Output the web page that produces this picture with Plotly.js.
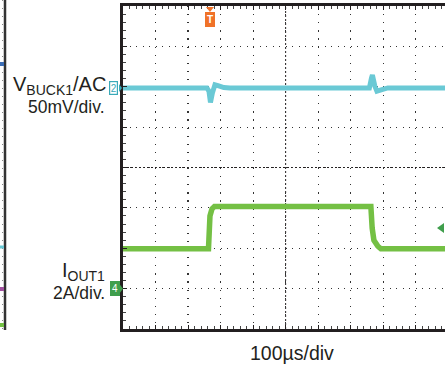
<!DOCTYPE html>
<html>
<head>
<meta charset="utf-8">
<script src="https://cdn.plot.ly/plotly-3.0.1.min.js"></script>
<style>html,body{margin:0;padding:0;background:#fff;}#chart{width:445px;height:370px;}</style>
</head>
<body>
<div id="chart"></div>
<script>
// ---- Data read from the scope capture ----
// Channel 2: V_BUCK1 (AC coupled), mV vs time in microseconds
const ch2TimeUs = [0, 258, 264.3, 268.9, 275, 282.7, 292, 310, 328.8, 757.5, 763.7, 766.8, 774.5, 780.6, 796, 814.4, 990];
const ch2mV     = [0, 0,   -4,    -18,   -6,  4,     3,   0.5, 0,     0,     12,    16,    2,     -4,    -2,  0,     0];
// Channel 4: I_OUT1, amps vs time in microseconds
const ch4TimeUs = [0,    262.8, 267.4, 273.5, 281.2, 762.1, 766.1, 771.4, 783.6, 792.9, 990];
const ch4A      = [1.97, 1.97,  3.6,   3.95,  4.07,  4.07,  2.99,  2.40,  2.10,  1.97,  1.97];
// Scope settings / labels
const ch2Label = 'V<sub>BUCK1</sub>/AC';
const ch2Scale = '50mV/div.';
const ch4Label = 'I<sub>OUT1</sub>';
const ch4Scale = '2A/div.';
const timeScale = '100µs/div';
const triggerTimeUs = 267.4;
const ch4TriggerLevelA = 3;

const L = 123, W = 322, T = 6, H = 323;
const px2paperX = p => (p - L) / W;
const px2paperY = p => (T + H - p) / H;

const cyan = '#6ac9d5', green = '#74c044', dark = '#231f20';
const font = 'Liberation Sans, Arial, sans-serif';

const traces = [
  {x: ch2TimeUs, y: ch2mV, yaxis: 'y2', mode: 'lines', line: {color: cyan, width: 5}, hoverinfo: 'skip'},
  {x: ch4TimeUs, y: ch4A, yaxis: 'y3', mode: 'lines', line: {color: green, width: 5.5}, hoverinfo: 'skip'}
];

const baseAx = {showticklabels: false, zeroline: false, fixedrange: true};
const layout = {
  width: 445, height: 370,
  margin: {l: L, r: 0, t: T, b: 370 - T - H, pad: 0},
  paper_bgcolor: '#fff', plot_bgcolor: '#fff',
  showlegend: false,
  xaxis: Object.assign({}, baseAx, {
    range: [0, 990], tick0: 0, dtick: 100,
    showgrid: true, gridcolor: '#333', gridwidth: 1.2, griddash: '1.2px,6.9px',
    showline: true, linecolor: dark, linewidth: 3, mirror: 'ticks',
    ticks: 'inside', ticklen: 4, tickcolor: dark, tickwidth: 1,
    minor: {dtick: 20, tick0: 0, ticks: 'inside', ticklen: 3, tickcolor: '#444', tickwidth: 1, showgrid: false}
  }),
  yaxis: Object.assign({}, baseAx, {
    range: [-4, 4], tick0: 0, dtick: 1,
    showgrid: true, gridcolor: '#333', gridwidth: 1.2, griddash: '1.2px,5.3px',
    showline: true, linecolor: dark, linewidth: 3,
    ticks: 'inside', ticklen: 4, tickcolor: dark, tickwidth: 1,
    minor: {dtick: 0.2, tick0: 0, ticks: 'inside', ticklen: 3, tickcolor: '#444', tickwidth: 1, showgrid: false}
  }),
  yaxis2: Object.assign({}, baseAx, {overlaying: 'y', range: [-298.5, 101.5], visible: false}),
  yaxis3: Object.assign({}, baseAx, {overlaying: 'y', range: [-2, 14], visible: false}),
  // center graticule tick marks
  yaxis4: Object.assign({}, baseAx, {overlaying: 'y', anchor: 'free', side: 'left', position: px2paperX(285.7 - 3),
    range: [-4, 4], tick0: 0, dtick: 0.2, ticks: 'inside', ticklen: 6, tickcolor: dark, tickwidth: 1, showgrid: false, showline: false}),
  xaxis2: Object.assign({}, baseAx, {overlaying: 'x', anchor: 'free', side: 'bottom', position: px2paperY(167.5 + 3),
    range: [0, 990], tick0: 0, dtick: 20, ticks: 'inside', ticklen: 6, tickcolor: dark, tickwidth: 1, showgrid: false, showline: false}),
  shapes: [
    {type: 'line', xref: 'x', yref: 'paper', x0: 500, x1: 500, y0: 0, y1: 1, line: {color: dark, width: 1, dash: '2px,2px'}, layer: 'below'},
    {type: 'line', xref: 'paper', yref: 'y', x0: 0, x1: 1, y0: 0, y1: 0, line: {color: dark, width: 1, dash: '2px,2px'}, layer: 'below'},
    // trigger level arrow for channel 4
    {type: 'path', xref: 'paper', yref: 'y3', xsizemode: 'pixel', ysizemode: 'pixel', xanchor: px2paperX(441), yanchor: ch4TriggerLevelA,
      path: 'M 3 -5 L -4 0 L 3 5 Z', fillcolor: '#3f9e4c', line: {width: 0}},
    // trigger position pin
    {type: 'path', xref: 'x', yref: 'paper', xsizemode: 'pixel', ysizemode: 'pixel', xanchor: triggerTimeUs, yanchor: 1,
      path: 'M -4 -1 L 4 -1 L 0 -6 Z', fillcolor: '#f07228', line: {width: 0}},
    // channel 2 marker pointer
    {type: 'path', xref: 'paper', yref: 'y2', xsizemode: 'pixel', ysizemode: 'pixel', xanchor: px2paperX(119), yanchor: 0,
      path: 'M 0 -4 L 3 0 L 0 4 Z', fillcolor: '#3aa9b8', line: {width: 0}},
    // channel 4 marker pointer
    {type: 'path', xref: 'paper', yref: 'y3', xsizemode: 'pixel', ysizemode: 'pixel', xanchor: px2paperX(120), yanchor: 0,
      path: 'M 0 -4 L 3 0 L 0 4 Z', fillcolor: '#3f9e4c', line: {width: 0}},
    // neighbouring capture edge at far left
    {type: 'line', xref: 'paper', yref: 'paper', x0: px2paperX(5), x1: px2paperX(5), y0: px2paperY(0), y1: px2paperY(330), line: {color: '#333', width: 2.5}},
    {type: 'line', xref: 'paper', yref: 'paper', x0: px2paperX(2.5), x1: px2paperX(2.5), y0: px2paperY(0), y1: px2paperY(330), line: {color: '#888', width: 1, dash: '1px,7px'}},
    {type: 'line', xref: 'paper', yref: 'paper', x0: px2paperX(0), x1: px2paperX(4), y0: px2paperY(64), y1: px2paperY(64), line: {color: '#3b6db5', width: 4}},
    {type: 'line', xref: 'paper', yref: 'paper', x0: px2paperX(0), x1: px2paperX(4), y0: px2paperY(247), y1: px2paperY(247), line: {color: cyan, width: 3}},
    {type: 'line', xref: 'paper', yref: 'paper', x0: px2paperX(0), x1: px2paperX(4), y0: px2paperY(289), y1: px2paperY(289), line: {color: '#a0509f', width: 4}},
    {type: 'line', xref: 'paper', yref: 'paper', x0: px2paperX(0), x1: px2paperX(4), y0: px2paperY(325), y1: px2paperY(325), line: {color: green, width: 4}}
  ],
  annotations: [
    {text: ch2Label, xref: 'paper', yref: 'paper', x: px2paperX(108), y: px2paperY(85), xanchor: 'right', yanchor: 'middle', showarrow: false, font: {family: font, size: 20, color: dark}},
    {text: ch2Scale, xref: 'paper', yref: 'paper', x: px2paperX(106.5), y: px2paperY(107), xanchor: 'right', yanchor: 'middle', showarrow: false, font: {family: font, size: 17.5, color: dark}},
    {text: ch4Label, xref: 'paper', yref: 'paper', x: px2paperX(106.5), y: px2paperY(271), xanchor: 'right', yanchor: 'middle', showarrow: false, font: {family: font, size: 20, color: dark}},
    {text: ch4Scale, xref: 'paper', yref: 'paper', x: px2paperX(106.5), y: px2paperY(293), xanchor: 'right', yanchor: 'middle', showarrow: false, font: {family: font, size: 17.5, color: dark}},
    {text: timeScale, xref: 'paper', yref: 'paper', x: px2paperX(292), y: px2paperY(353), xanchor: 'center', yanchor: 'middle', showarrow: false, font: {family: font, size: 19.5, color: dark}},
    {text: '2', xref: 'paper', yref: 'y2', x: px2paperX(113.5), y: 0, xanchor: 'center', yanchor: 'middle', showarrow: false,
      font: {family: font, size: 10, color: '#3aa9b8'}, bgcolor: '#fff', bordercolor: '#3aa9b8', borderwidth: 1.2, borderpad: 0.5},
    {text: '4', xref: 'paper', yref: 'y3', x: px2paperX(115), y: 0, xanchor: 'center', yanchor: 'middle', showarrow: false,
      font: {family: font, size: 10, color: '#fff'}, bgcolor: '#3f9e4c', bordercolor: '#3f9e4c', borderwidth: 1, borderpad: 1},
    {text: '<b>T</b>', xref: 'x', yref: 'paper', x: triggerTimeUs, y: 1, yshift: -6, xanchor: 'center', yanchor: 'top', showarrow: false,
      font: {family: font, size: 10, color: '#fff'}, bgcolor: '#f07228', bordercolor: '#f07228', borderwidth: 1, borderpad: 1}
  ]
};

Plotly.newPlot('chart', traces, layout, {staticPlot: true, displayModeBar: false});
</script>
</body>
</html>
